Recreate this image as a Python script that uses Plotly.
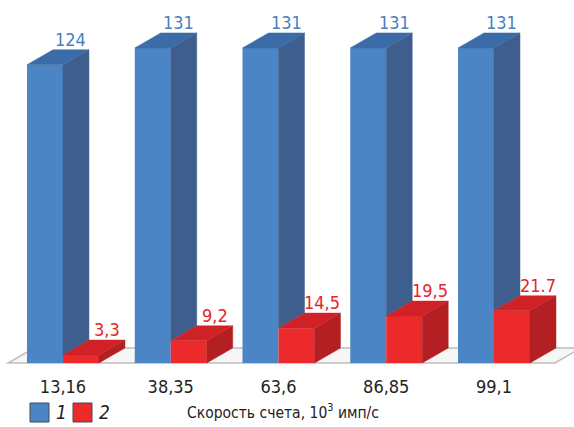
import plotly.graph_objects as go

categories = ["13,16", "38,35", "63,6", "86,85", "99,1"]
series1 = [124, 131, 131, 131, 131]
series2 = [3.3, 9.2, 14.5, 19.5, 21.7]
labels1 = ["124", "131", "131", "131", "131"]
labels2 = ["3,3", "9,2", "14,5", "19,5", "21.7"]
legend_names = ["1", "2"]
axis_title = "Скорость счета, 10<sup>3</sup> имп/с"

FONT = "Liberation Sans Narrow, DejaVu Sans Condensed, Roboto Condensed, Arial Narrow, sans-serif"
BLUE_FRONT, BLUE_TOP, BLUE_SIDE = "#4c85c5", "#3c6ca7", "#3e5f8d"
RED_FRONT, RED_TOP, RED_SIDE = "#ec2a2c", "#d02226", "#b31f23"
BLUE_TXT, RED_TXT = "#4a7fc0", "#e82429"

W = 0.334   # bar width (category units)
DX = 0.241  # depth offset, x
DY = 6.24   # depth offset, y

pos = list(range(len(categories)))

fig = go.Figure()

# front faces as bars
fig.add_trace(go.Bar(x=pos, y=series1, width=W, offset=-W, base=0,
                     marker=dict(color=BLUE_FRONT, line=dict(width=0)),
                     name=legend_names[0], showlegend=False, hoverinfo="skip"))
fig.add_trace(go.Bar(x=pos, y=series2, width=W, offset=0, base=0,
                     marker=dict(color=RED_FRONT, line=dict(width=0)),
                     name=legend_names[1], showlegend=False, hoverinfo="skip"))


def poly_trace(polys, color):
    xs, ys = [], []
    for p in polys:
        for (a, b) in p:
            xs.append(a)
            ys.append(b)
        xs.append(p[0][0]); ys.append(p[0][1])
        xs.append(None); ys.append(None)
    return go.Scatter(x=xs, y=ys, mode="lines", fill="toself", fillcolor=color,
                      line=dict(color=color, width=0.5), showlegend=False,
                      hoverinfo="skip")


blue_top, blue_side, red_top, red_side = [], [], [], []
for i, (h1, h2) in enumerate(zip(series1, series2)):
    x0, x1 = i - W, i
    blue_top.append([(x0, h1), (x1, h1), (x1 + DX, h1 + DY), (x0 + DX, h1 + DY)])
    blue_side.append([(x1, h2), (x1 + DX, h2 + DY), (x1 + DX, h1 + DY), (x1, h1)])
    r0, r1 = i, i + W
    red_top.append([(r0, h2), (r1, h2), (r1 + DX, h2 + DY), (r0 + DX, h2 + DY)])
    red_side.append([(r1, 0), (r1 + DX, DY), (r1 + DX, h2 + DY), (r1, h2)])

fig.add_trace(poly_trace(blue_side, BLUE_SIDE))
fig.add_trace(poly_trace(blue_top, BLUE_TOP))
fig.add_trace(poly_trace(red_side, RED_SIDE))
fig.add_trace(poly_trace(red_top, RED_TOP))

# floor
fl, fr = -0.51, len(categories) - 1 + 0.566
fig.add_shape(type="path", xref="x", yref="y", layer="below",
              path=f"M {fl},0 L {fr},0 L {fr + DX},{DY} L {fl + DX},{DY} Z",
              fillcolor="#f6f6f6", line=dict(color="#bdbdbd", width=1.5))

PH = 365  # plot height in px


def py(p):
    return (PH - p) / PH


annotations = []
for i, (h1, h2) in enumerate(zip(series1, series2)):
    annotations.append(dict(x=i - W / 2 + DX, y=h1 + DY, xref="x", yref="y",
                            text=labels1[i], showarrow=False, yanchor="bottom",
                            yshift=-2, font=dict(family=FONT, size=18, color=BLUE_TXT)))
    annotations.append(dict(x=i + W / 2 + DX, y=h2 + DY, xref="x", yref="y",
                            text=labels2[i], showarrow=False, yanchor="bottom",
                            yshift=-2, font=dict(family=FONT, size=18, color=RED_TXT)))

# axis title
annotations.append(dict(x=283 / 574, y=py(411), xref="paper", yref="paper", text=axis_title,
                        showarrow=False, yanchor="middle",
                        font=dict(family=FONT, size=15.5, color="#222")))

# manual legend
legend_items = [(30, BLUE_FRONT, legend_names[0]), (73, RED_FRONT, legend_names[1])]
for x0, col, name in legend_items:
    fig.add_shape(type="rect", xref="paper", yref="paper",
                  x0=x0 / 574, x1=(x0 + 19) / 574, y0=py(422), y1=py(403),
                  fillcolor=col, line=dict(color="#4a4a4a", width=1))
    annotations.append(dict(x=(x0 + 24) / 574, y=py(412), xref="paper", yref="paper",
                            text=f"<i>{name}</i>", showarrow=False, xanchor="left",
                            yanchor="middle",
                            font=dict(family=FONT, size=19, color="#222")))

fig.update_layout(
    width=574, height=427,
    margin=dict(l=0, r=0, t=0, b=427 - PH),
    paper_bgcolor="white", plot_bgcolor="white",
    barmode="overlay",
    showlegend=False,
    annotations=annotations,
    xaxis=dict(range=[-63 / 107.75, (574 - 63) / 107.75], tickvals=pos,
               ticktext=categories, showgrid=False, zeroline=False, showline=False,
               ticks="", ticklabelstandoff=9,
               tickfont=dict(family=FONT, size=18, color="#222"),
               fixedrange=True),
    yaxis=dict(range=[-2 / 2.405, 363 / 2.405], visible=False, fixedrange=True),
)

fig.write_html("out.html", config={"displayModeBar": False},
               post_script="document.body.style.margin='0';document.body.style.overflow='hidden';")
